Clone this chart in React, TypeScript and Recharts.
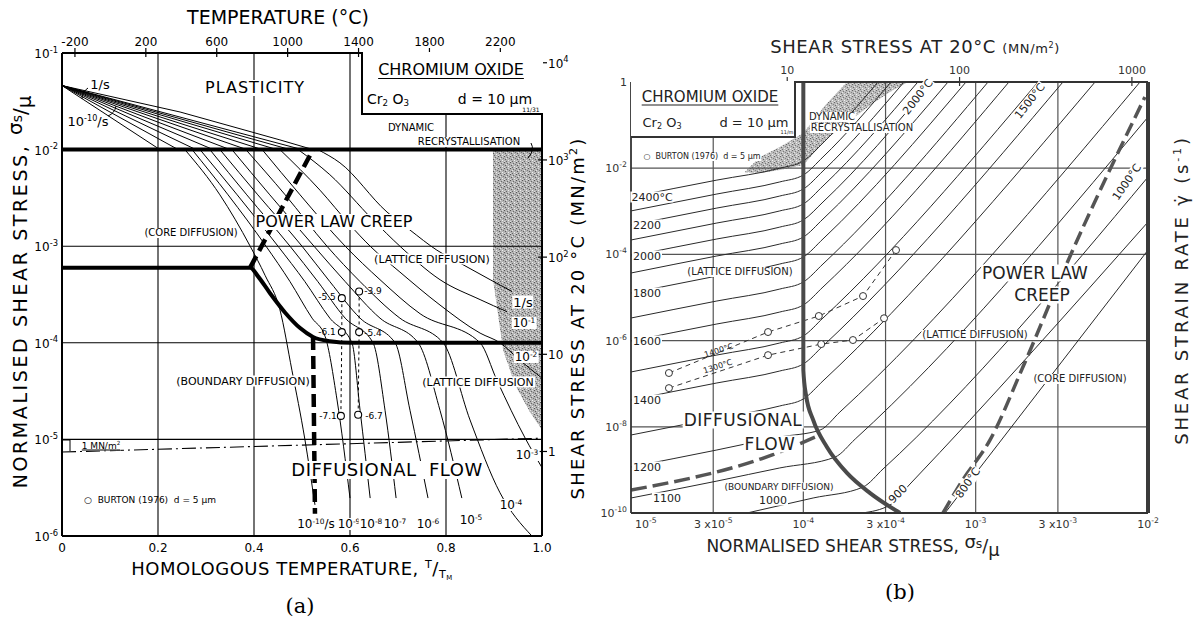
import React from "react";
import { ComposedChart, Line, Area, XAxis, YAxis, ReferenceLine } from "recharts";

type Pt = [number, number];

const FONT = "'DejaVu Sans', 'Open Sans', sans-serif";

// ---------------- map (a): sigma_s/mu against T/TM ----------------
const HOMO_TICKS = [0, 0.2, 0.4, 0.6, 0.8, 1.0];
const TEMP_TICKS = [-200, 200, 600, 1000, 1400, 1800, 2200];
const NORM_TICKS = [1e-6, 1e-5, 1e-4, 1e-3, 1e-2, 1e-1];
const MN_TICKS = [1, 10, 100, 1000, 10000];
const TM_K = 2708; // melting point of Cr2O3 (K)
const TEMP_POS = TEMP_TICKS.map((t) => (t + 273) / TM_K);

// strain-rate contours in the plasticity field: 1/s down to 1e-10/s
const A_PLAST: Pt[][] = [
  [[0, 4.6e-2], [0.246, 2.45e-2], [0.454, 1.26e-2], [0.523, 1e-2]],
  [[0, 4.6e-2], [0.5, 1e-2]],
  [[0, 4.6e-2], [0.475, 1e-2]],
  [[0, 4.6e-2], [0.448, 1e-2]],
  [[0, 4.6e-2], [0.417, 1e-2]],
  [[0, 4.6e-2], [0.385, 1e-2]],
  [[0, 4.6e-2], [0.35, 1e-2]],
  [[0, 4.6e-2], [0.315, 1e-2]],
  [[0, 4.6e-2], [0.279, 1e-2]],
  [[0, 4.6e-2], [0.242, 1e-2]],
  [[0, 4.6e-2], [0.204, 1e-2]],
];

// same contours through power-law creep and diffusional flow
const A_CREEP: Pt[][] = [
  [[0.533, 1e-2], [0.579, 7.3e-3], [0.677, 2.26e-3], [0.725, 1.47e-3], [0.781, 9.1e-4], [0.829, 6.7e-4], [0.892, 4.5e-4], [0.9375, 3.4e-4]],
  [[0.492, 1e-2], [0.558, 5.5e-3], [0.648, 1.87e-3], [0.704, 1e-3], [0.7875, 4.5e-4], [0.871, 2.8e-4], [0.927, 2.1e-4]],
  [[0.454, 1e-2], [0.5375, 3.8e-3], [0.6, 1.66e-3], [0.642, 1e-3], [0.704, 5.4e-4], [0.7875, 2.46e-4], [0.871, 1.26e-4], [0.9125, 1e-4], [0.954, 6.6e-5], [1.0, 4.3e-5]],
  [[0.417, 1e-2], [0.496, 3.4e-3], [0.59, 1e-3], [0.6625, 4.5e-4], [0.746, 2.0e-4], [0.871, 1e-4], [0.906, 4.1e-5], [0.965, 1.03e-5], [1.0, 5.1e-6]],
  [[0.383, 1e-2], [0.465, 3.4e-3], [0.552, 1e-3], [0.621, 4.3e-4], [0.704, 1.8e-4], [0.794, 1e-4], [0.85, 1.59e-5], [0.9125, 2.8e-6], [0.979, 1e-6]],
  [[0.354, 1e-2], [0.433, 3.4e-3], [0.525, 1e-3], [0.59, 4.3e-4], [0.6625, 1.8e-4], [0.742, 1e-4], [0.7875, 2.0e-5], [0.833, 2.47e-6]],
  [[0.329, 1e-2], [0.408, 3.4e-3], [0.5, 1e-3], [0.558, 4.3e-4], [0.621, 1.8e-4], [0.694, 1e-4], [0.725, 2.0e-5], [0.7625, 2.47e-6]],
  [[0.308, 1e-2], [0.385, 3.4e-3], [0.475, 1e-3], [0.533, 4.3e-4], [0.59, 1.8e-4], [0.648, 1e-4], [0.673, 2.0e-5], [0.696, 2.47e-6]],
  [[0.2875, 1e-2], [0.365, 3.4e-3], [0.45, 1e-3], [0.506, 4.3e-4], [0.558, 1.8e-4], [0.604, 1e-4], [0.621, 2.0e-5], [0.642, 2.47e-6]],
  [[0.271, 1e-2], [0.346, 3.4e-3], [0.425, 1e-3], [0.475, 4.3e-4], [0.521, 1.8e-4], [0.548, 1.17e-4], [0.573, 2.56e-5], [0.6, 2.47e-6]],
  [[0.256, 1e-2], [0.329, 3.4e-3], [0.392, 1e-3], [0.423, 5.0e-4], [0.454, 2.2e-4], [0.479, 5.2e-5], [0.506, 1e-5], [0.527, 2.1e-6]],
];

// field boundaries
const A_TOP_BOUND: Pt[] = [[0, 1e-2], [1, 1e-2]];
const A_LOW_BOUND: Pt[] = [[0, 6e-4], [0.392, 6e-4], [0.408, 4.9e-4], [0.433, 3.28e-4], [0.465, 2.05e-4], [0.496, 1.42e-4], [0.523, 1.15e-4], [0.558, 1.04e-4], [0.604, 1e-4], [1, 1e-4]];
const A_DASH_UP: Pt[] = [[0.392, 6e-4], [0.523, 1e-2]];
const A_DASH_DOWN: Pt[] = [[0.523, 1.15e-4], [0.527, 1.7e-6]];
const A_ONE_MN: Pt[] = [[0, 7.4e-6], [1, 1.03e-5]];

// Burton (1976) points
const A_BURTON_L: Pt[] = [[0.583, 2.9e-4], [0.583, 1.29e-4], [0.581, 1.75e-5]];
const A_BURTON_R: Pt[] = [[0.619, 3.4e-4], [0.619, 1.29e-4], [0.617, 1.8e-5]];

// dynamic recrystallisation field: [T/TM, lower, upper]
const A_DRX: [number, number, number][] = [
  [0.8979, 1e-2, 1e-2], [0.898, 4.5e-4, 1e-2], [0.904, 2.8e-4, 1e-2], [0.919, 8.4e-5, 1e-2],
  [0.944, 3.66e-5, 1e-2], [0.975, 1.92e-5, 1e-2], [1.0, 1.25e-5, 1e-2],
];

// ---------------- map (b): strain rate against sigma_s/mu ----------------
const STRESS_TICKS = [1e-5, 3e-5, 1e-4, 3e-4, 1e-3, 3e-3, 1e-2];
const RATE_TICKS = [1e-10, 1e-8, 1e-6, 1e-4, 1e-2, 1];
const MPA_TICKS = [10, 100, 1000];
const MU_MN = 1.24e5; // shear modulus at 20 C (MN/m2)
const MPA_POS = MPA_TICKS.map((s) => s / MU_MN);

// isotherms (deg C)
const B_TEMPS = [2400, 2300, 2200, 2100, 2000, 1900, 1800, 1700, 1600, 1500, 1400, 1300, 1200, 1100, 1000, 900, 800];
const B_ISO: Pt[][] = [
  [[1e-5, 2.15e-3], [3.15e-5, 5.3e-3], [7.3e-5, 1.0e-2], [1e-4, 1.47e-2], [1.3e-4, 3.85e-2], [2.71e-4, 1]],
  [[1e-5, 1.02e-3], [3.15e-5, 2.52e-3], [7.3e-5, 4.8e-3], [1e-4, 6.95e-3], [1.3e-4, 1.82e-2], [3.23e-4, 1]],
  [[1e-5, 4.8e-4], [3.15e-5, 1.19e-3], [7.3e-5, 2.26e-3], [1e-4, 3.29e-3], [1.3e-4, 8.6e-3], [3.84e-4, 1]],
  [[1e-5, 2.16e-4], [3.15e-5, 5.35e-4], [7.3e-5, 1.02e-3], [1e-4, 1.48e-3], [1.3e-4, 3.86e-3], [4.62e-4, 1]],
  [[1e-5, 9.2e-5], [3.15e-5, 2.28e-4], [7.3e-5, 4.3e-4], [1e-4, 6.3e-4], [1.3e-4, 1.64e-3], [5.58e-4, 1]],
  [[1e-5, 3.7e-5], [3.15e-5, 9.2e-5], [7.3e-5, 1.74e-4], [1e-4, 2.53e-4], [1.3e-4, 6.6e-4], [6.91e-4, 1]],
  [[1e-5, 1.27e-5], [3.15e-5, 3.15e-5], [7.3e-5, 5.98e-5], [1e-4, 8.7e-5], [1.3e-4, 2.28e-4], [8.79e-4, 1]],
  [[1e-5, 3.34e-6], [3.15e-5, 8.3e-6], [7.3e-5, 1.57e-5], [1e-4, 2.29e-5], [1.3e-4, 5.98e-5], [1.18e-3, 1]],
  [[1e-5, 9.8e-7], [3.15e-5, 2.43e-6], [7.3e-5, 4.6e-6], [1e-4, 6.7e-6], [1.3e-4, 1.75e-5], [1.56e-3, 1]],
  [[1e-5, 1.87e-7], [3.15e-5, 4.63e-7], [7.3e-5, 8.8e-7], [1e-4, 1.28e-6], [1.3e-4, 3.34e-6], [2.3e-3, 1]],
  [[1e-5, 4.19e-8], [3.15e-5, 1.04e-7], [7.3e-5, 1.97e-7], [1e-4, 2.87e-7], [1.3e-4, 7.5e-7], [3.21e-3, 1]],
  [[1e-5, 6.45e-9], [3.15e-5, 1.6e-8], [7.3e-5, 3.04e-8], [1e-4, 4.42e-8], [1.3e-4, 1.16e-7], [4.93e-3, 1]],
  [[1e-5, 1.17e-9], [3.15e-5, 2.9e-9], [7.3e-5, 5.8e-9], [1.25e-4, 8.4e-9], [1.63e-4, 2.2e-8], [8.99e-3, 1]],
  [[1e-5, 2.23e-10], [3.15e-5, 5.5e-10], [7.3e-5, 1.11e-9], [1.53e-4, 1.99e-9], [2.0e-4, 5.2e-9], [1e-2, 0.154]],
  [[4.71e-5, 1e-10], [1.14e-4, 2.23e-10], [2.22e-4, 4.0e-10], [2.9e-4, 1.05e-9], [1e-2, 6.25e-3]],
  [[2.19e-4, 1e-10], [3.18e-4, 1.53e-10], [4.16e-4, 4.7e-10], [1e-2, 5.65e-4]],
  [[6.64e-4, 1e-10], [1e-2, 1.26e-4]],
];

const B_BOUND: Pt[] = [[1e-4, 1], [1e-4, 2.08e-7], [1.036e-4, 5.5e-8], [1.14e-4, 1.44e-8], [1.37e-4, 3.4e-9], [1.79e-4, 8.5e-10], [2.44e-4, 2.9e-10], [3.64e-4, 1e-10]];
const B_DASH_CORE: Pt[] = [[6.46e-4, 1e-10], [8.4e-4, 5.8e-10], [1.21e-3, 4.9e-9], [1.88e-3, 2.44e-7], [3.39e-3, 6.3e-5], [9.6e-3, 0.449]];
const B_DASH_BDRY: Pt[] = [[1e-5, 3.4e-10], [7.3e-5, 2.6e-9], [1.25e-4, 6.5e-9]];
const B_BURTON_1400: Pt[] = [[1.66e-5, 1.77e-7], [6.24e-5, 1.58e-6], [1.23e-4, 3.72e-6], [2.22e-4, 1.08e-5], [3.45e-4, 1.26e-4]];
const B_BURTON_1300: Pt[] = [[1.66e-5, 7.9e-8], [6.24e-5, 4.6e-7], [1.27e-4, 8.3e-7], [1.94e-4, 1.03e-6], [2.94e-4, 3.3e-6]];

// dynamic recrystallisation band: [sigma/mu, lower, upper]
const B_DRX: [number, number, number][] = [
  [4.59e-5, 7.9e-3, 8.3e-3], [5.6e-5, 7.7e-3, 1.82e-2], [7.3e-5, 9.1e-3, 3.1e-2], [1e-4, 1.19e-2, 6.6e-2],
  [1.34e-4, 4.5e-2, 0.29], [1.79e-4, 0.112, 1], [2.44e-4, 0.29, 1], [3.18e-4, 0.586, 1], [4.05e-4, 1, 1],
];

const rows = (pts: Pt[]) => pts.map(([x, y]) => ({ x, y }));
const bandRows = (pts: [number, number, number][]) => pts.map(([x, lo, hi]) => ({ x, band: [lo, hi] }));

const supOf = (e: number, fs: number) => (
  <tspan dy={-fs * 0.45} fontSize={fs * 0.7}>{e}</tspan>
);

function powLabel(v: number, fs: number) {
  const e = Math.round(Math.log10(v));
  if (e === 0) return "1";
  if (e === 1) return "10";
  return (<>10{supOf(e, fs)}</>);
}

// ---- tick renderers (tickSize/tickMargin are 0, so x/y sit on the axis line) ----
const NormTick = (p: any) => (
  <text x={p.x - 4} y={p.y + 5} textAnchor="end" fontSize={12} fontFamily={FONT} fill="#000">{powLabel(p.payload.value, 12)}</text>
);
const HomoTick = (p: any) => (
  <text x={p.x} y={p.y + 16} textAnchor="middle" fontSize={12} fontFamily={FONT} fill="#000">{p.payload.value === 0 ? "0" : p.payload.value.toFixed(1)}</text>
);
const TempTick = (p: any) => (
  <g>
    <line x1={p.x} x2={p.x} y1={p.y - 5} y2={p.y + 4} stroke="#000" strokeWidth={1.2} />
    <text x={p.x} y={p.y - 7} textAnchor="middle" fontSize={12} fontFamily={FONT} fill="#000">{TEMP_TICKS[p.index]}</text>
  </g>
);
const MnTick = (p: any) => (
  <g>
    <line x1={p.x - 4} x2={p.x + 5} y1={p.y} y2={p.y} stroke="#000" strokeWidth={1.2} />
    <text x={p.x + 6} y={p.y + 5} textAnchor="start" fontSize={12} fontFamily={FONT} fill="#000">{powLabel(p.payload.value, 12)}</text>
  </g>
);
const RateTick = (p: any) => (
  <text x={p.x - 4} y={p.y + 4} textAnchor="end" fontSize={11} fontFamily={FONT} fill="#333">{powLabel(p.payload.value, 11)}</text>
);
const StressTick = (p: any) => {
  const v: number = p.payload.value;
  const e = Math.floor(Math.log10(v) + 1e-9);
  const m = Math.round(v / Math.pow(10, e));
  const first = p.index === 0;
  return (
    <text x={first ? p.x + 4 : p.x} y={p.y + 15} textAnchor={first ? "start" : "middle"} fontSize={11} fontFamily={FONT} fill="#333">
      {m === 1 ? "10" : `${m} x10`}{supOf(e, 11)}
    </text>
  );
};
const MpaTick = (p: any) => (
  <g>
    <line x1={p.x} x2={p.x} y1={p.y - 5} y2={p.y + 4} stroke="#333" strokeWidth={1.2} />
    <text x={p.x} y={p.y - 8} textAnchor="middle" fontSize={11} fontFamily={FONT} fill="#333">{MPA_TICKS[p.index]}</text>
  </g>
);

function MapA() {
  const ax = { stroke: "#000", strokeWidth: 2 };
  return (
    <ComposedChart width={600} height={623} margin={{ top: 23, right: 18, bottom: 57, left: 12 }}>
      <XAxis xAxisId="t" dataKey="x" type="number" domain={[0, 1]} ticks={HOMO_TICKS} height={30} axisLine={ax} tickLine={false} tickSize={0} tickMargin={0} tick={HomoTick} interval={0} allowDataOverflow />
      <XAxis xAxisId="c" dataKey="x" orientation="top" type="number" domain={[0, 1]} ticks={TEMP_POS} height={30} axisLine={ax} tickLine={false} tickSize={0} tickMargin={0} tick={TempTick} interval={0} allowDataOverflow />
      <YAxis yAxisId="n" type="number" scale="log" domain={[1e-6, 1e-1]} ticks={NORM_TICKS} width={50} axisLine={ax} tickLine={false} tickSize={0} tickMargin={0} tick={NormTick} interval={0} allowDataOverflow />
      <YAxis yAxisId="m" orientation="right" type="number" scale="log" domain={[0.135, 12600]} ticks={MN_TICKS} width={40} axisLine={ax} tickLine={false} tickSize={0} tickMargin={0} tick={MnTick} interval={0} allowDataOverflow />

      <Area data={bandRows(A_DRX)} dataKey="band" xAxisId="t" yAxisId="n" type="linear" fill="url(#stipple) #aaa" fillOpacity={1} stroke="none" isAnimationActive={false} />

      {[0.2, 0.4, 0.6, 0.8].map((v) => (
        <ReferenceLine key={`gx${v}`} x={v} xAxisId="t" yAxisId="n" stroke="#000" strokeWidth={1.1} />
      ))}
      {[1e-3, 1e-5].map((v) => (
        <ReferenceLine key={`gy${v}`} y={v} xAxisId="t" yAxisId="n" stroke="#000" strokeWidth={1.1} />
      ))}
      <ReferenceLine segment={[{ x: 0, y: 1e-4 }, { x: 0.6, y: 1e-4 }]} xAxisId="t" yAxisId="n" stroke="#000" strokeWidth={1.1} />

      {A_PLAST.map((pts, i) => (
        <Line key={`p${i}`} data={rows(pts)} dataKey="y" xAxisId="t" yAxisId="n" type="linear" stroke="#000" strokeWidth={1} dot={false} isAnimationActive={false} />
      ))}
      {A_CREEP.map((pts, i) => (
        <Line key={`c${i}`} data={rows(pts)} dataKey="y" xAxisId="t" yAxisId="n" type="monotoneX" stroke="#000" strokeWidth={1} dot={false} isAnimationActive={false} />
      ))}

      <Line data={rows(A_ONE_MN)} dataKey="y" xAxisId="c" yAxisId="n" type="linear" stroke="#000" strokeWidth={1.1} strokeDasharray="14 4 2 4" dot={false} isAnimationActive={false} />
      <Line data={rows(A_BURTON_L)} dataKey="y" xAxisId="t" yAxisId="n" type="linear" stroke="#000" strokeWidth={1} strokeDasharray="3 3" dot={{ r: 3.5, fill: "#fff", stroke: "#000", strokeWidth: 1.1, strokeDasharray: "" }} isAnimationActive={false} />
      <Line data={rows(A_BURTON_R)} dataKey="y" xAxisId="t" yAxisId="n" type="linear" stroke="#000" strokeWidth={1} strokeDasharray="3 3" dot={{ r: 3.5, fill: "#fff", stroke: "#000", strokeWidth: 1.1, strokeDasharray: "" }} isAnimationActive={false} />

      <Line data={rows(A_TOP_BOUND)} dataKey="y" xAxisId="t" yAxisId="n" type="linear" stroke="#000" strokeWidth={4} dot={false} isAnimationActive={false} />
      <Line data={rows(A_LOW_BOUND)} dataKey="y" xAxisId="t" yAxisId="n" type="monotoneX" stroke="#000" strokeWidth={4} dot={false} isAnimationActive={false} />
      <Line data={rows(A_DASH_UP)} dataKey="y" xAxisId="t" yAxisId="n" type="linear" stroke="#000" strokeWidth={4.5} strokeDasharray="13 6" dot={false} isAnimationActive={false} />
      <Line data={rows(A_DASH_DOWN)} dataKey="y" xAxisId="t" yAxisId="n" type="linear" stroke="#000" strokeWidth={4.5} strokeDasharray="13 6" dot={false} isAnimationActive={false} />
    </ComposedChart>
  );
}

function MapB() {
  const ax = { stroke: "#333", strokeWidth: 1.8 };
  const grid = "#555";
  return (
    <ComposedChart width={598} height={623} margin={{ top: 52, right: 50, bottom: 80, left: 1 }}>
      <XAxis xAxisId="s" dataKey="x" type="number" scale="log" domain={[1e-5, 1e-2]} ticks={STRESS_TICKS} height={30} axisLine={ax} tickLine={false} tickSize={0} tickMargin={0} tick={StressTick} interval={0} allowDataOverflow />
      <XAxis xAxisId="m" dataKey="x" orientation="top" type="number" scale="log" domain={[1e-5, 1e-2]} ticks={MPA_POS} height={30} axisLine={ax} tickLine={false} tickSize={0} tickMargin={0} tick={MpaTick} interval={0} allowDataOverflow />
      <YAxis yAxisId="r" type="number" scale="log" domain={[1e-10, 1]} ticks={RATE_TICKS} width={30} axisLine={ax} tickLine={false} tickSize={0} tickMargin={0} tick={RateTick} interval={0} allowDataOverflow />

      <Area data={bandRows(B_DRX)} dataKey="band" xAxisId="s" yAxisId="r" type="linear" fill="url(#stipple) #aaa" fillOpacity={0.9} stroke="none" isAnimationActive={false} />

      {[3e-5, 1e-4, 3e-4, 1e-3, 3e-3].map((v) => (
        <ReferenceLine key={`gx${v}`} x={v} xAxisId="s" yAxisId="r" stroke={grid} strokeWidth={1.2} />
      ))}
      {[1e-2, 1e-4, 1e-6, 1e-8].map((v) => (
        <ReferenceLine key={`gy${v}`} y={v} xAxisId="s" yAxisId="r" stroke={grid} strokeWidth={1.2} />
      ))}

      {B_ISO.map((pts, i) => (
        <Line key={`iso${B_TEMPS[i]}`} data={rows(pts)} dataKey="y" xAxisId="s" yAxisId="r" type="monotoneX" stroke="#2a2a2a" strokeWidth={1} dot={false} isAnimationActive={false} />
      ))}

      <Line data={rows(B_BURTON_1400)} dataKey="y" xAxisId="s" yAxisId="r" type="linear" stroke="#333" strokeWidth={1} strokeDasharray="5 4" dot={{ r: 3.5, fill: "#fff", stroke: "#333", strokeWidth: 1, strokeDasharray: "" }} isAnimationActive={false} />
      <Line data={rows(B_BURTON_1300)} dataKey="y" xAxisId="s" yAxisId="r" type="linear" stroke="#333" strokeWidth={1} strokeDasharray="5 4" dot={{ r: 3.5, fill: "#fff", stroke: "#333", strokeWidth: 1, strokeDasharray: "" }} isAnimationActive={false} />

      <Line data={rows(B_BOUND)} dataKey="y" xAxisId="s" yAxisId="r" type="monotone" stroke="#4a4a4a" strokeWidth={4} dot={false} isAnimationActive={false} />
      <Line data={rows(B_DASH_CORE)} dataKey="y" xAxisId="s" yAxisId="r" type="monotoneX" stroke="#555" strokeWidth={3.5} strokeDasharray="14 6" dot={false} isAnimationActive={false} />
      <Line data={rows(B_DASH_BDRY)} dataKey="y" xAxisId="m" yAxisId="r" type="monotoneX" stroke="#555" strokeWidth={3.5} strokeDasharray="16 6" dot={false} isAnimationActive={false} />
      <ReferenceLine x={1e-2} xAxisId="s" yAxisId="r" stroke="#3a3a3a" strokeWidth={4} />
    </ComposedChart>
  );
}

type NoteProps = {
  x: number; y: number; size?: number; rot?: number; bg?: boolean; color?: string; ls?: number;
  children: React.ReactNode; style?: React.CSSProperties;
};
function Note({ x, y, size = 11, rot = 0, bg = true, color = "#000", ls = 0, children, style }: NoteProps) {
  return (
    <div
      style={{
        position: "absolute", left: x, top: y, transform: `translate(-50%, -50%) rotate(${rot}deg)`,
        fontSize: size, lineHeight: 1, whiteSpace: "nowrap", background: bg ? "#fff" : "transparent",
        color, padding: "0 1px", fontFamily: FONT, letterSpacing: ls, ...style,
      }}
    >
      {children}
    </div>
  );
}
const Sup = ({ children }: { children: React.ReactNode }) => (
  <sup style={{ fontSize: "0.62em", verticalAlign: "0.6em", lineHeight: 0 }}>{children}</sup>
);
const Sub = ({ children }: { children: React.ReactNode }) => (
  <sub style={{ fontSize: "0.62em", verticalAlign: "-0.25em", lineHeight: 0 }}>{children}</sub>
);
// slanted sigma_s / mu as lettered on the axes
const SigMu = () => (
  <span style={{ fontSize: "1.05em", letterSpacing: 0 }}>
    <span style={{ position: "relative", top: "-0.25em" }}>σ<span style={{ fontSize: "0.7em" }}>s</span></span>
    /
    <span style={{ position: "relative", top: "0.2em" }}>μ</span>
  </span>
);

export default function App() {
  return (
    <div style={{ position: "absolute", left: 0, top: 0, width: 1198, height: 623, background: "#fff", overflow: "hidden", fontFamily: FONT }}>
      <svg width={0} height={0} style={{ position: "absolute" }}>
        <defs>
          <pattern id="stipple" width="6" height="6" patternUnits="userSpaceOnUse">
            <rect width="6" height="6" fill="#b4b4b4" />
            <rect x="0" y="0" width="1" height="1" fill="#555" />
            <rect x="3" y="1" width="1" height="1" fill="#6a6a6a" />
            <rect x="1" y="3" width="1" height="1" fill="#5c5c5c" />
            <rect x="4" y="4" width="1" height="1" fill="#eee" />
            <rect x="2" y="2" width="1" height="1" fill="#e6e6e6" />
            <rect x="5" y="2" width="1" height="1" fill="#777" />
            <rect x="4" y="0" width="1" height="1" fill="#d8d8d8" />
            <rect x="0" y="5" width="1" height="1" fill="#e0e0e0" />
            <rect x="2" y="5" width="1" height="1" fill="#666" />
          </pattern>
        </defs>
      </svg>

      <div style={{ position: "absolute", left: 0, top: 0 }}><MapA /></div>
      <div style={{ position: "absolute", left: 600, top: 0 }}><MapB /></div>

      {/* small hand-drawn leaders of map (a) */}
      <svg width={600} height={623} style={{ position: "absolute", left: 0, top: 0, pointerEvents: "none" }}>
        <path d="M88 88 Q82 92 82 99" fill="none" stroke="#000" strokeWidth={1} />
        <path d="M108 116 Q115 113 116 106" fill="none" stroke="#000" strokeWidth={1} />
        <path d="M62 440 H70 V451" fill="none" stroke="#000" strokeWidth={1} />
        <path d="M531 143 Q535 150 528 158" fill="none" stroke="#000" strokeWidth={1} />
      </svg>

      {/* ---------- (a) titles ---------- */}
      <Note x={278} y={17} size={19} bg={false}>TEMPERATURE (°C)</Note>
      <Note x={292} y={569} size={18} bg={false} ls={0.5}>
        HOMOLOGOUS TEMPERATURE, <Sup>T</Sup>/<Sub>T<Sub>M</Sub></Sub>
      </Note>
      <Note x={21} y={292} size={19} rot={-90} bg={false} ls={2.6}>NORMALISED SHEAR STRESS, <SigMu /></Note>
      <Note x={578} y={318} size={18} rot={-90} bg={false} ls={2.2}>SHEAR STRESS AT 20 °C (MN/m<Sup>2</Sup>)</Note>
      <Note x={300} y={606} size={21} bg={false} style={{ fontFamily: "'DejaVu Serif', serif" }}>(a)</Note>

      {/* box */}
      <div style={{ position: "absolute", left: 361, top: 52, width: 180, height: 61, background: "#fff", border: "2px solid #000", borderTop: "none", borderRight: "none" }} />
      <Note x={451} y={70} size={16} bg={false} style={{ textDecoration: "underline", textUnderlineOffset: 3 }}>CHROMIUM OXIDE</Note>
      <Note x={388} y={99} size={14} bg={false}>Cr<Sub>2</Sub> O<Sub>3</Sub></Note>
      <Note x={495} y={99} size={14} bg={false}>d = 10 μm</Note>
      <Note x={531} y={110} size={6} bg={false}>11/31</Note>

      {/* field labels (a) */}
      <Note x={255} y={88} size={16} ls={1}>PLASTICITY</Note>
      <Note x={100} y={84} size={13} bg={false}>1/s</Note>
      <Note x={88} y={121} size={13} bg={false}>10<Sup>-10</Sup>/s</Note>
      <Note x={411} y={128} size={10}>DYNAMIC</Note>
      <Note x={469} y={142} size={10}>RECRYSTALLISATION</Note>
      <Note x={334} y={222} size={16}>POWER LAW CREEP</Note>
      <Note x={191} y={233} size={10}>(CORE DIFFUSION)</Note>
      <Note x={432} y={259} size={11}>(LATTICE DIFFUSION)</Note>
      <Note x={243} y={381} size={11}>(BOUNDARY DIFFUSION)</Note>
      <Note x={478} y={382} size={11}>(LATTICE DIFFUSION</Note>
      <Note x={387} y={470} size={18} ls={0.5}>DIFFUSIONAL&nbsp;&nbsp;FLOW</Note>
      <Note x={150} y={500} size={9} bg={false}>○&nbsp;&nbsp;BURTON (1976)&nbsp;&nbsp;d = 5 μm</Note>
      <Note x={101} y={446} size={9} style={{ textDecoration: "underline" }}>1 MN/m<Sup>2</Sup></Note>

      {/* Burton annotations (a) */}
      <Note x={327} y={297} size={9} bg={false}>-5.5</Note>
      <Note x={373} y={291} size={9} bg={false}>-3.9</Note>
      <Note x={327} y={332} size={9} bg={false}>-6.1</Note>
      <Note x={373} y={333} size={9} bg={false}>-5.4</Note>
      <Note x={328} y={416} size={9} bg={false}>-7.1</Note>
      <Note x={374} y={416} size={9} bg={false}>-6.7</Note>

      {/* strain-rate labels (a) */}
      <Note x={316} y={524} size={12}>10<Sup>-10</Sup>/s</Note>
      <Note x={349} y={524} size={12}>10<Sup>-9</Sup></Note>
      <Note x={371} y={524} size={12}>10<Sup>-8</Sup></Note>
      <Note x={395} y={524} size={12}>10<Sup>-7</Sup></Note>
      <Note x={428} y={524} size={12}>10<Sup>-6</Sup></Note>
      <Note x={471} y={520} size={12}>10<Sup>-5</Sup></Note>
      <Note x={511} y={505} size={12}>10<Sup>-4</Sup></Note>
      <Note x={527} y={455} size={12}>10<Sup>-3</Sup></Note>
      <Note x={526} y={357} size={12}>10<Sup>-2</Sup></Note>
      <Note x={524} y={323} size={12}>10<Sup>-1</Sup></Note>
      <Note x={523} y={302} size={13}>1/s</Note>

      {/* ---------- (b) titles ---------- */}
      <Note x={915} y={47} size={18} bg={false} color="#222" ls={0.6}>
        SHEAR STRESS AT 20°C <span style={{ fontSize: 13 }}>(MN/m<Sup>2</Sup>)</span>
      </Note>
      <Note x={853} y={546} size={17} bg={false} color="#222">NORMALISED SHEAR STRESS, <SigMu /></Note>
      <Note x={1182} y={290} size={18} rot={-90} bg={false} color="#222" ls={2.8}>SHEAR STRAIN RATE γ̇ (s<Sup>-1</Sup>)</Note>
      <Note x={900} y={592} size={21} bg={false} style={{ fontFamily: "'DejaVu Serif', serif" }}>(b)</Note>

      <div style={{ position: "absolute", left: 631, top: 81, width: 163, height: 55, background: "#fff", border: "2px solid #333", borderTop: "none", borderLeft: "none" }} />
      <Note x={710} y={97} size={15} bg={false} color="#222" style={{ textDecoration: "underline", textUnderlineOffset: 3 }}>CHROMIUM OXIDE</Note>
      <Note x={662} y={122} size={13} bg={false} color="#222">Cr<Sub>2</Sub> O<Sub>3</Sub></Note>
      <Note x={754} y={122} size={13} bg={false} color="#222">d = 10 μm</Note>
      <Note x={787} y={132} size={5} bg={false} color="#222">11/m</Note>
      <Note x={702} y={157} size={8} color="#222">○&nbsp;&nbsp;BURTON (1976)&nbsp;&nbsp;d = 5 μm</Note>

      <Note x={832} y={117} size={10} color="#222">DYNAMIC</Note>
      <Note x={862} y={128} size={10} color="#222">RECRYSTALLISATION</Note>
      <Note x={740} y={272} size={10} color="#222">(LATTICE DIFFUSION)</Note>
      <Note x={743} y={420} size={17} color="#222" ls={0.5}>DIFFUSIONAL</Note>
      <Note x={770} y={444} size={17} color="#222" ls={0.5}>FLOW</Note>
      <Note x={779} y={487} size={9} color="#222">(BOUNDARY DIFFUSION)</Note>
      <Note x={1035} y={273} size={17} color="#222">POWER LAW</Note>
      <Note x={1042} y={295} size={17} color="#222">CREEP</Note>
      <Note x={975} y={335} size={10} color="#222">(LATTICE DIFFUSION)</Note>
      <Note x={1080} y={379} size={10} color="#222">(CORE DIFFUSION)</Note>

      {/* isotherm labels (b) */}
      <Note x={652} y={197} size={11} color="#222">2400°C</Note>
      <Note x={647} y={225} size={11} color="#222">2200</Note>
      <Note x={647} y={256} size={11} color="#222">2000</Note>
      <Note x={647} y={293} size={11} color="#222">1800</Note>
      <Note x={647} y={341} size={11} color="#222">1600</Note>
      <Note x={647} y={400} size={11} color="#222">1400</Note>
      <Note x={647} y={467} size={11} color="#222">1200</Note>
      <Note x={667} y={498} size={11} color="#222">1100</Note>
      <Note x={773} y={500} size={11} color="#222">1000</Note>
      <Note x={898} y={494} size={11} rot={-45} color="#222">900</Note>
      <Note x={968} y={483} size={11} rot={-55} color="#222">800°C</Note>
      <Note x={1127} y={182} size={11} rot={-55} color="#222">1000°C</Note>
      <Note x={1030} y={101} size={11} rot={-52} color="#222">1500°C</Note>
      <Note x={918} y={97} size={11} rot={-52} color="#222">2000°C</Note>
      <Note x={719} y={351} size={8} rot={-18} color="#222" bg={false}>1400°C</Note>
      <Note x={718} y={367} size={8} rot={-18} color="#222" bg={false}>1300°C</Note>
    </div>
  );
}
